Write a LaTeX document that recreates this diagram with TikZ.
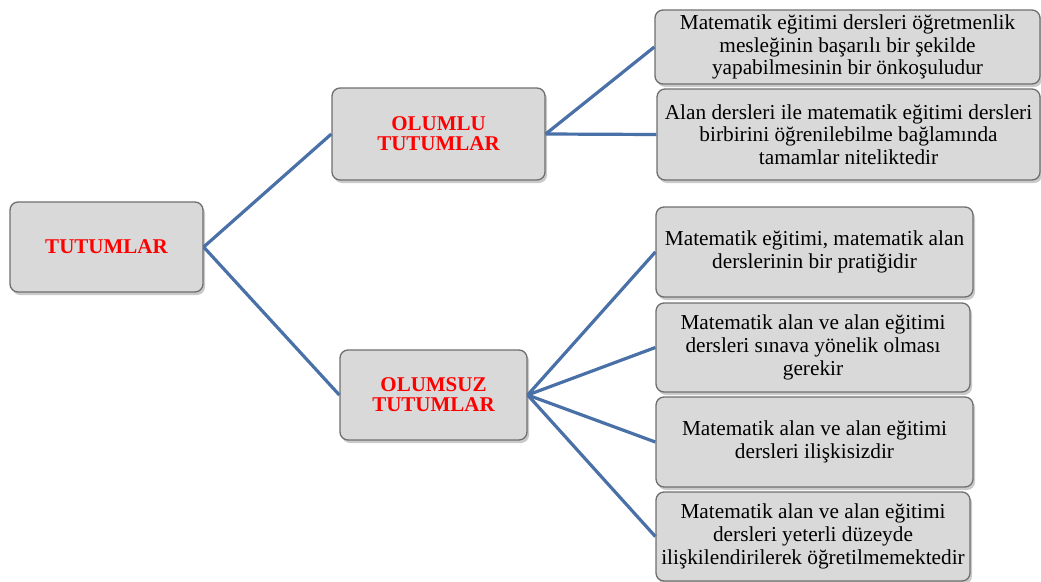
\documentclass[tikz,border=0pt]{standalone}
\usepackage{fontspec}
\setmainfont{Liberation Serif}
\usetikzlibrary{shadows}
\definecolor{linkblue}{RGB}{74,112,168}
\definecolor{boxgray}{RGB}{217,217,217}
\definecolor{edgegray}{RGB}{110,110,110}
\tikzset{%
  % Specifications for style of nodes:
            base/.style = {rectangle, rounded corners=8pt, draw=edgegray,
                           line width=1.3pt, fill=boxgray, inner sep=0pt,
                           align=center,
                           drop shadow={shadow xshift=2pt, shadow yshift=-3pt,
                                        opacity=0.35, fill=black!60}},
          rootbox/.style = {base, text=red, font=\fontsize{21}{20}\selectfont\bfseries},
          itembox/.style = {base, font=\fontsize{21.3}{22.7}\selectfont},
             link/.style = {draw=linkblue, line width=3.2pt},
}
\begin{document}
\begin{tikzpicture}[x=1pt, y=-1pt]
  \useasboundingbox (0,0) rectangle (1041,581);
  % Specification of nodes (position, etc.)

  \node (tutum)   at (106.5,247)  [rootbox, minimum width=193pt, minimum height=90pt] {TUTUMLAR};
  \node (olumlu)  at (438.5,134)  [rootbox, minimum width=213pt, minimum height=92pt] {OLUMLU\\TUTUMLAR};
  \node (olumsuz) at (433.5,395)  [rootbox, minimum width=187pt, minimum height=90pt] {OLUMSUZ\\TUTUMLAR};

  \node (pos1)    at (847.5,47)   [itembox, minimum width=385pt, minimum height=74pt]
        {Matematik eğitimi dersleri öğretmenlik\\mesleğinin başarılı bir şekilde\\yapabilmesinin bir önkoşuludur};
  \node (pos2)    at (848.5,134.5) [itembox, minimum width=383pt, minimum height=91pt]
        {Alan dersleri ile matematik eğitimi dersleri\\birbirini öğrenilebilme bağlamında\\tamamlar niteliktedir};

  \node (neg1)    at (814.5,252)  [itembox, minimum width=317pt, minimum height=90pt]
        {Matematik eğitimi, matematik alan\\derslerinin bir pratiğidir};
  \node (neg2)    at (813,347.5)  [itembox, minimum width=314pt, minimum height=89pt]
        {Matematik alan ve alan eğitimi\\dersleri sınava yönelik olması\\gerekir};
  \node (neg3)    at (814.5,442)  [itembox, minimum width=317pt, minimum height=90pt]
        {Matematik alan ve alan eğitimi\\dersleri ilişkisizdir};
  \node (neg4)    at (813,536.5)  [itembox, minimum width=314pt, minimum height=89pt]
        {Matematik alan ve alan eğitimi\\dersleri yeterli düzeyde\\ilişkilendirilerek öğretilmemektedir};

  \draw[link]     (tutum.east) -- (olumlu.west);
  \draw[link]     (tutum.east) -- (olumsuz.west);
  \draw[link]     (olumlu.east) -- (pos1.west);
  \draw[link]     (olumlu.east) -- (pos2.west);
  \draw[link]     (olumsuz.east) -- (neg1.west);
  \draw[link]     (olumsuz.east) -- (neg2.west);
  \draw[link]     (olumsuz.east) -- (neg3.west);
  \draw[link]     (olumsuz.east) -- (neg4.west);
\end{tikzpicture}
\end{document}
